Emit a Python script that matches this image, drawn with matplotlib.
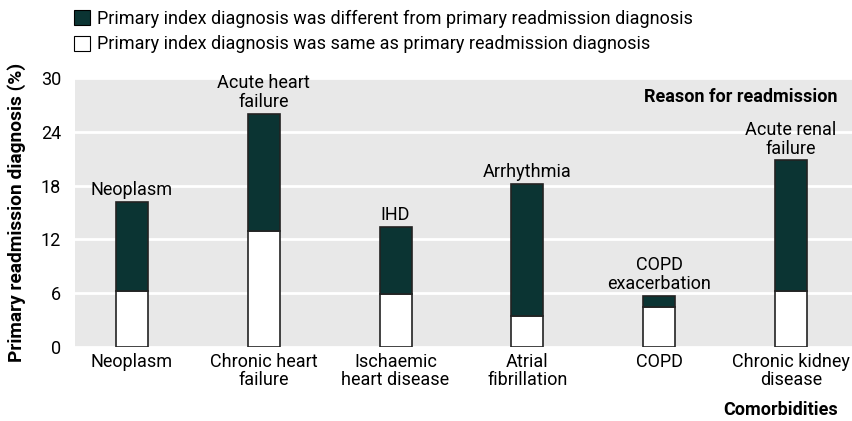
"""Readmission diagnosis by comorbidity: stacked bars, same vs different primary diagnosis."""
import matplotlib
matplotlib.use("Agg")
import matplotlib.pyplot as plt
from matplotlib.patches import Patch

plt.rcParams["font.family"] = ["Roboto", "DejaVu Sans"]

# ── data ──
comorbidities = ["Neoplasm", "Chronic heart\nfailure", "Ischaemic\nheart disease",
                 "Atrial\nfibrillation", "COPD", "Chronic kidney\ndisease"]
readmission_reason = ["Neoplasm", "Acute heart\nfailure", "IHD", "Arrhythmia",
                      "COPD\nexacerbation", "Acute renal\nfailure"]
same_dx = [6.2, 12.9, 5.9, 3.5, 4.5, 6.2]
total_dx = [16.2, 26.0, 13.4, 18.2, 5.7, 20.8]
different_dx = [t - s for t, s in zip(total_dx, same_dx)]
y_ticks = [0, 6, 12, 18, 24, 30]

DARK = "#0b3433"
BG = "#e8e8e8"
FS = 13

W, H = 853, 421
fig = plt.figure(figsize=(W / 100, H / 100), dpi=100)
ax = fig.add_axes([75 / W, 1 - 347 / H, (852 - 75) / W, (347 - 78) / H])
ax.set_facecolor(BG)

x = list(range(len(comorbidities)))
w = 0.243
ax.bar(x, same_dx, w, color="white", edgecolor="#222222", linewidth=1.2, zorder=3)
ax.bar(x, different_dx, w, bottom=same_dx, color=DARK, edgecolor="#222222",
       linewidth=1.2, zorder=3)

for xi, top, lab in zip(x, total_dx, readmission_reason):
    ax.annotate(lab, (xi, top), textcoords="offset points", xytext=(0, 2),
                ha="center", va="bottom", fontsize=FS, linespacing=1.05)

ax.set_xlim(-0.432, 5.463)
ax.set_ylim(0, 30)
ax.set_yticks(y_ticks)
ax.set_xticks(x)
ax.set_xticklabels(comorbidities, fontsize=FS, linespacing=1.0)
ax.tick_params(axis="both", length=0, labelsize=FS)
ax.tick_params(axis="x", pad=4)
ax.tick_params(axis="y", pad=10)
ax.grid(axis="y", color="white", linewidth=2.0, zorder=0)
ax.set_axisbelow(True)
for s in ax.spines.values():
    s.set_visible(False)

ax.set_ylabel("Primary readmission diagnosis (%)", fontsize=13.8, fontweight="bold", labelpad=11)
fig.text(838 / W, 1 - 97 / H, "Reason for readmission", ha="right", va="center",
         fontsize=FS, fontweight="bold")
fig.text(838 / W, 1 - 410 / H, "Comorbidities", ha="right", va="center",
         fontsize=FS, fontweight="bold")

handles = [Patch(facecolor=DARK, edgecolor="black", linewidth=0.8),
           Patch(facecolor="white", edgecolor="black", linewidth=0.8)]
labels = ["Primary index diagnosis was different from primary readmission diagnosis",
          "Primary index diagnosis was same as primary readmission diagnosis"]
fig.legend(handles, labels, loc="upper left", bbox_to_anchor=(74 / W, 1 - 10 / H),
           frameon=False, fontsize=FS, handlelength=0.9, handleheight=0.9,
           handletextpad=0.4, labelspacing=0.4, borderaxespad=0, borderpad=0)

fig.savefig("out.png")
